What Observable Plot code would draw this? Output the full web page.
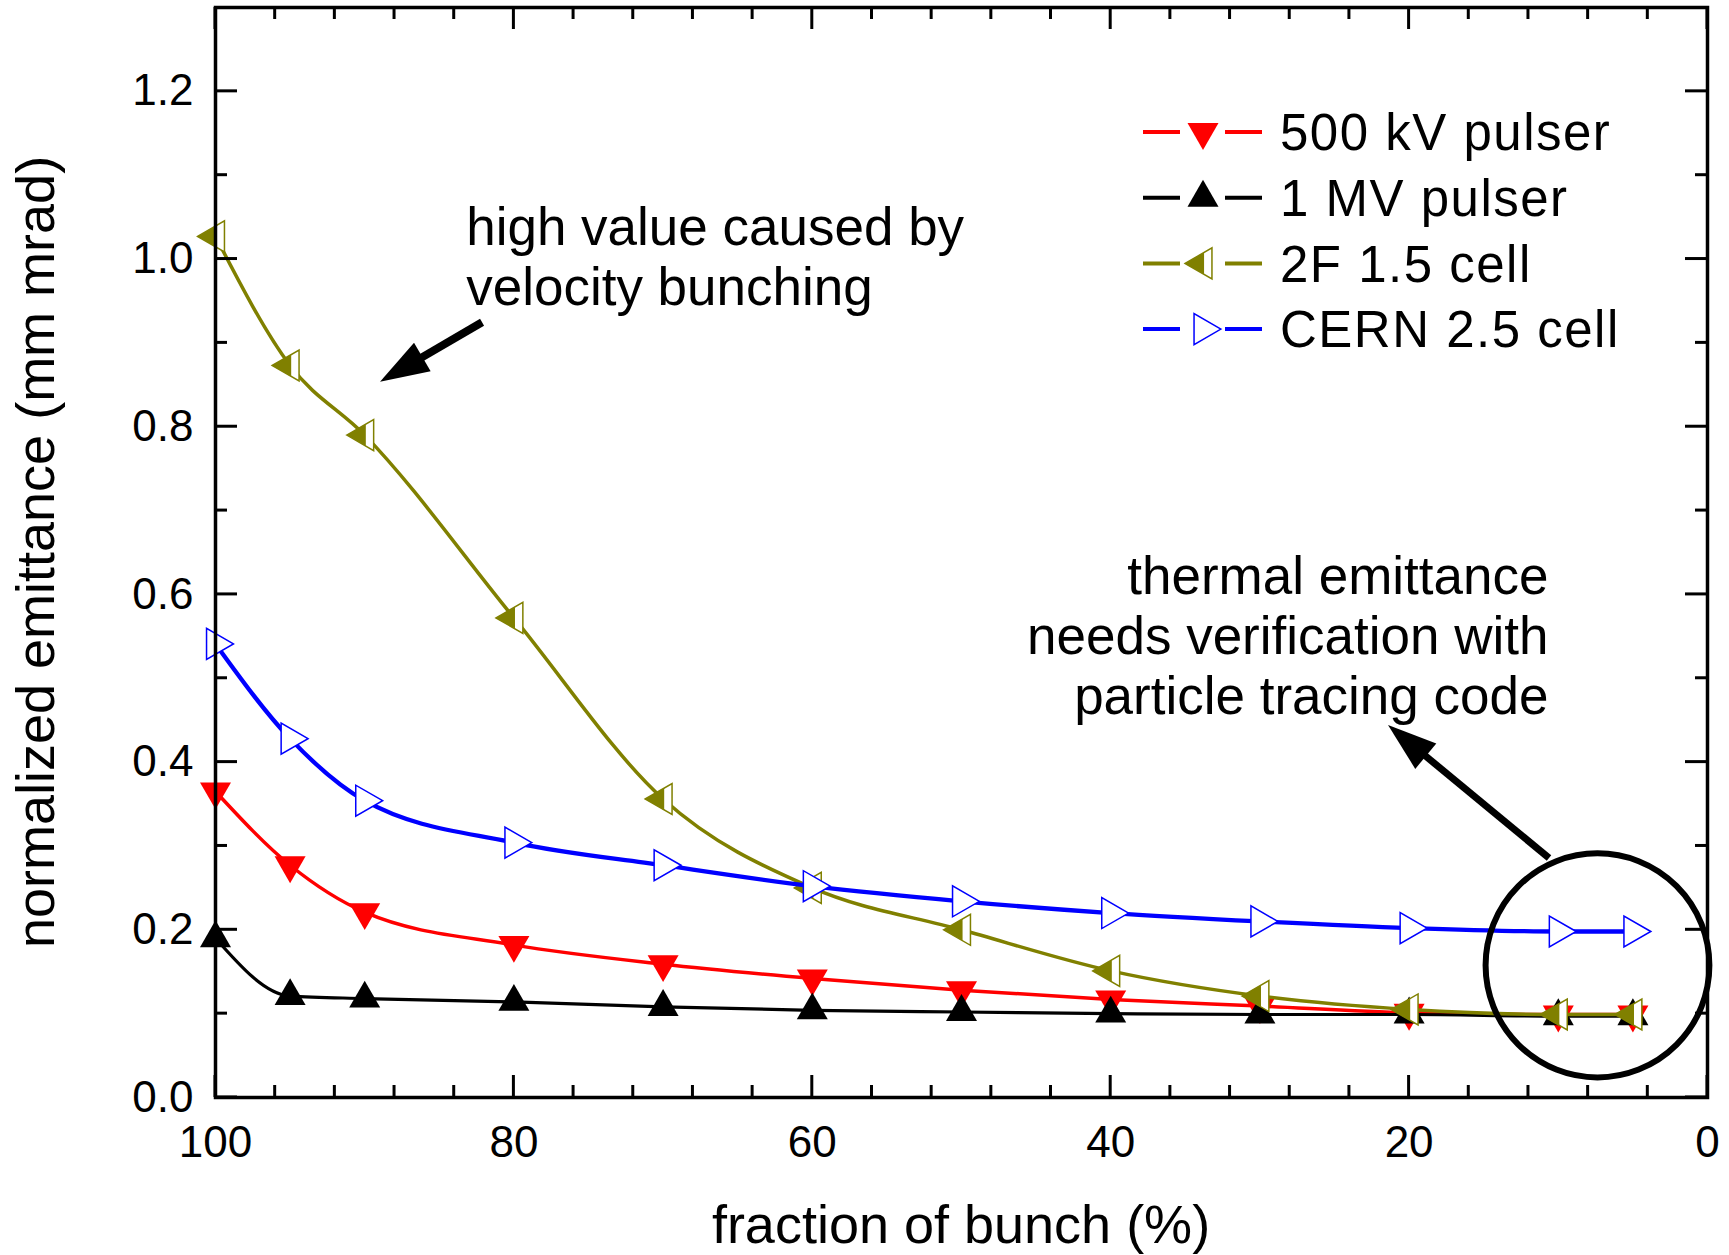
<!DOCTYPE html>
<html>
<head>
<meta charset="utf-8">
<script src="https://cdn.jsdelivr.net/npm/d3@7"></script>
<script src="https://cdn.jsdelivr.net/npm/@observablehq/plot@0.6"></script>
<style>
  html, body { margin: 0; padding: 0; background: #fff; }
  #chart svg { display: block; }
</style>
</head>
<body>
<div id="chart"></div>
<script>
// ---------- data ----------
const fraction = [100, 95, 90, 80, 70, 60, 50, 40, 30, 20, 10, 5];
const pulser500kV = [0.365, 0.277, 0.221, 0.182, 0.159, 0.142, 0.128, 0.117, 0.109, 0.101, 0.099, 0.099];
const pulser1MV   = [0.190, 0.121, 0.118, 0.114, 0.108, 0.104, 0.102, 0.100, 0.099, 0.099, 0.097, 0.097];
const cell2F      = [1.027, 0.873, 0.790, 0.572, 0.356, 0.250, 0.200, 0.151, 0.121, 0.105, 0.099, 0.099];
const cernCell    = [0.541, 0.428, 0.354, 0.304, 0.277, 0.252, 0.234, 0.220, 0.210, 0.202, 0.198, 0.198];
const seriesNames = ["500 kV pulser", "1 MV pulser", "2F 1.5 cell", "CERN 2.5 cell"];

const xMajorTicks = [100, 80, 60, 40, 20, 0];
const xMinorTicks = [96, 92, 88, 84, 76, 72, 68, 64, 56, 52, 48, 44, 36, 32, 28, 24, 16, 12, 8, 4];
const yMajorTicks = [0, 0.2, 0.4, 0.6, 0.8, 1.0, 1.2];
const yMinorTicks = [0.1, 0.3, 0.5, 0.7, 0.9, 1.1];
const xLabel = "fraction of bunch (%)";
const yLabel = "normalized emittance (mm mrad)";

const noteVelocity = ["high value caused by\nvelocity bunching"];
const noteVelocityPos = [83.2, 1.004];
const noteThermal = ["thermal emittance\nneeds verification with\nparticle tracing code"];
const noteThermalPos = [10.66, 0.552];
// arrows: [tailX, tailY, tipX, tipY]
const arrowVelocity = [82.1, 0.924, 88.94, 0.853];
const arrowThermal = [10.59, 0.285, 21.38, 0.4437];
// circle: [cx, cy, rx (x units), ry (y units)]
const circleThermal = [7.34, 0.157, 7.5, 0.1336];

// ---------- symbols (centred on the centroid, like the original) ----------
const H = 13 / 15;
const triDown = {draw(c, s) { const r = Math.sqrt(s / Math.PI), h = 2 * r * H; c.moveTo(-r, -h / 3); c.lineTo(r, -h / 3); c.lineTo(0, 2 * h / 3); c.closePath(); }};
const triUp = {draw(c, s) { const r = Math.sqrt(s / Math.PI), h = 2 * r * H; c.moveTo(-r, h / 3); c.lineTo(r, h / 3); c.lineTo(0, -2 * h / 3); c.closePath(); }};
const triLeft = {draw(c, s) { const r = Math.sqrt(s / Math.PI), w = 2 * r * H; c.moveTo(-2 * w / 3, 0); c.lineTo(w / 3, -r); c.lineTo(w / 3, r); c.closePath(); }};
const triLeftHalf = {draw(c, s) { const r = Math.sqrt(s / Math.PI), w = 2 * r * H, k = Math.SQRT1_2; const bx = -2 * w / 3 + k * w; c.moveTo(-2 * w / 3, 0); c.lineTo(bx, -r * k); c.lineTo(bx, r * k); c.closePath(); }};
const triRight = {draw(c, s) { const r = Math.sqrt(s / Math.PI), w = 2 * r * H; c.moveTo(2 * w / 3, 0); c.lineTo(-w / 3, -r); c.lineTo(-w / 3, r); c.closePath(); }};

const R = 15.5;
const series = [
  {name: seriesNames[0], values: pulser500kV, color: "#ff0000", width: 3.5,
   markers: [{symbol: triDown, fill: "#ff0000", stroke: "none"}]},
  {name: seriesNames[1], values: pulser1MV, color: "#000000", width: 3.2,
   markers: [{symbol: triUp, fill: "#000000", stroke: "none"}]},
  {name: seriesNames[2], values: cell2F, color: "#808000", width: 3.5,
   markers: [{symbol: triLeft, fill: "#ffffff", stroke: "#808000", sw: 1.5},
             {symbol: triLeftHalf, fill: "#808000", stroke: "none"}]},
  {name: seriesNames[3], values: cernCell, color: "#0000ff", width: 4.3,
   markers: [{symbol: triRight, fill: "#ffffff", stroke: "#0000ff", sw: 1.5}]}
];

// ---------- custom marks ----------
function ticksMark(index, scales, values, dims) {
  const {x, y} = scales;
  const L = dims.marginLeft, Rr = dims.width - dims.marginRight;
  const T = dims.marginTop, B = dims.height - dims.marginBottom;
  const g = d3.create("svg:g").attr("stroke", "#000").attr("stroke-width", 3);
  const add = (vals, len) => {
    for (const v of vals) {
      const px = x(v);
      g.append("line").attr("x1", px).attr("x2", px).attr("y1", B).attr("y2", B - len);
      g.append("line").attr("x1", px).attr("x2", px).attr("y1", T).attr("y2", T + len);
    }
  };
  const addY = (vals, len) => {
    for (const v of vals) {
      const py = y(v);
      g.append("line").attr("y1", py).attr("y2", py).attr("x1", L).attr("x2", L + len);
      g.append("line").attr("y1", py).attr("y2", py).attr("x1", Rr).attr("x2", Rr - len);
    }
  };
  add(xMajorTicks, 22); add(xMinorTicks, 12);
  addY(yMajorTicks, 22); addY(yMinorTicks, 12);
  return g.node();
}

function axisLabelsMark(index, scales, values, dims) {
  const g = d3.create("svg:g").attr("fill", "#000").attr("font-size", 54).attr("text-anchor", "middle");
  const L = dims.marginLeft, Rr = dims.width - dims.marginRight;
  const T = dims.marginTop, B = dims.height - dims.marginBottom;
  g.append("text").attr("x", (L + Rr) / 2).attr("y", B + 127).attr("dy", "0.36em").text(xLabel);
  g.append("text").attr("transform", `translate(${L - 180},${(T + B) / 2}) rotate(-90)`)
    .attr("dy", "0.36em").text(yLabel);
  return g.node();
}

function arrowPath(sx, sy, a, headL, headW) {
  const x0 = sx(a[0]), y0 = sy(a[1]), x1 = sx(a[2]), y1 = sy(a[3]);
  const dx = x1 - x0, dy = y1 - y0, len = Math.hypot(dx, dy);
  const ux = dx / len, uy = dy / len, nx = -uy, ny = ux;
  const bx = x1 - ux * headL, by = y1 - uy * headL;
  return {
    shaft: [x0, y0, bx + ux * 4, by + uy * 4],
    head: `M${x1},${y1}L${bx + nx * headW},${by + ny * headW}L${bx - nx * headW},${by - ny * headW}Z`
  };
}

function annotationMark(index, scales, values, dims) {
  const {x, y} = scales;
  const g = d3.create("svg:g");
  for (const [a, sw] of [[arrowVelocity, 8], [arrowThermal, 7]]) {
    const p = arrowPath(x, y, a, 49, 16.5);
    g.append("line").attr("x1", p.shaft[0]).attr("y1", p.shaft[1]).attr("x2", p.shaft[2]).attr("y2", p.shaft[3])
      .attr("stroke", "#000").attr("stroke-width", sw);
    g.append("path").attr("d", p.head).attr("fill", "#000");
  }
  const [cx, cy, rx, ry] = circleThermal;
  g.append("ellipse")
    .attr("cx", x(cx)).attr("cy", y(cy))
    .attr("rx", Math.abs(x(cx + rx) - x(cx))).attr("ry", Math.abs(y(cy + ry) - y(cy)))
    .attr("fill", "none").attr("stroke", "#000").attr("stroke-width", 6);
  return g.node();
}

function legendMark(index, scales, values, dims) {
  const g = d3.create("svg:g");
  const x0 = 1143, x1 = 1180, x2 = 1225, x3 = 1262, xm = 1203, xt = 1280;
  series.forEach((s, i) => {
    const cy = 132 + i * 65.7;
    for (const [a, b] of [[x0, x1], [x2, x3]]) {
      g.append("line").attr("x1", a).attr("x2", b).attr("y1", cy).attr("y2", cy)
        .attr("stroke", s.color).attr("stroke-width", 4);
    }
    for (const m of s.markers) {
      const p = d3.path();
      m.symbol.draw(p, R * R * Math.PI);
      g.append("path").attr("d", p.toString()).attr("transform", `translate(${xm},${cy})`)
        .attr("fill", m.fill).attr("stroke", m.stroke).attr("stroke-width", m.sw || 0);
    }
    g.append("text").attr("x", xt).attr("y", cy).attr("dy", "0.36em")
      .attr("text-anchor", "start")
      .attr("font-size", 51).attr("letter-spacing", "1.5px").attr("fill", "#000")
      .text(s.name);
  });
  return g.node();
}

// ---------- marks ----------
const marks = [];
for (const s of series) {
  const rows = fraction.map((f, i) => ({x: f, y: s.values[i]}));
  marks.push(Plot.line(rows, {x: "x", y: "y", stroke: s.color, strokeWidth: s.width, curve: "monotone-x"}));
  for (const m of s.markers) {
    marks.push(Plot.dot(rows, {x: "x", y: "y", r: R, symbol: m.symbol, fill: m.fill,
      stroke: m.stroke, strokeWidth: m.sw || 0}));
  }
}

const chart = Plot.plot({
  width: 1729,
  height: 1255,
  marginLeft: 215,
  marginRight: 22,
  marginTop: 7,
  marginBottom: 158,
  style: {fontFamily: "'Liberation Sans', Arial, sans-serif", background: "#fff", color: "#000"},
  x: {domain: [100, 0]},
  y: {domain: [0, 1.3]},
  marks: [
    ...marks,
    Plot.frame({stroke: "#000", strokeWidth: 3.5}),
    ticksMark,
    Plot.axisX({ticks: xMajorTicks, tickSize: 0, tickPadding: 28, fontSize: 44, label: null}),
    Plot.axisY({ticks: yMajorTicks, tickSize: 0, tickPadding: 22, fontSize: 44, label: null, tickFormat: d3.format(".1f")}),
    axisLabelsMark,
    Plot.text(noteVelocity, {x: () => noteVelocityPos[0], y: () => noteVelocityPos[1], text: d => d,
      textAnchor: "start", lineAnchor: "middle", fontSize: 53, lineHeight: 1.13}),
    Plot.text(noteThermal, {x: () => noteThermalPos[0], y: () => noteThermalPos[1], text: d => d,
      textAnchor: "end", lineAnchor: "middle", fontSize: 53, lineHeight: 1.13}),
    annotationMark,
    legendMark
  ]
});
document.getElementById("chart").appendChild(chart);
</script>
</body>
</html>
